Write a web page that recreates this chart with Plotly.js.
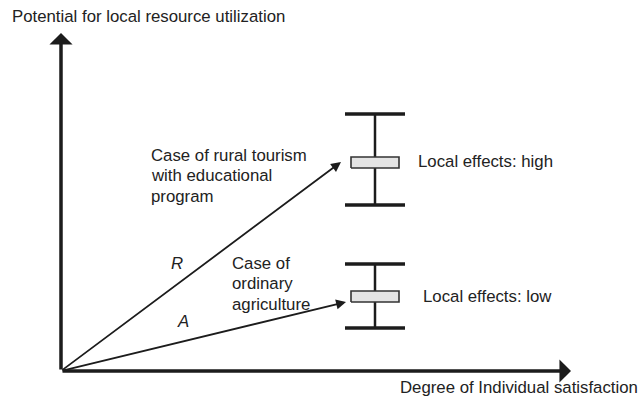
<!DOCTYPE html>
<html>
<head>
<meta charset="utf-8">
<script src="https://cdn.plot.ly/plotly-3.0.1.min.js"></script>
<style>html,body{margin:0;padding:0;background:#fff;}#chart{width:641px;height:402px;}</style>
</head>
<body>
<div id="chart"></div>
<script>
// ---- Data (conceptual units, origin = where the two axes meet) ----
const axisLength = [510, 338];                 // [satisfaction axis, potential axis]
const caseNames = ['R', 'A'];
const caseSatisfaction = [280, 285];           // arrow tips, x
const casePotential = [209, 69];               // arrow tips, y
const effectX = [314, 314];                    // position of local-effect ranges
const effectWhiskerLow = [166, 43];
const effectWhiskerHigh = [257, 107];
const effectBoxLow = [203, 69];
const effectBoxHigh = [214, 80];
const effectLabels = ['Local effects: high', 'Local effects: low'];
const caseLabels = [
  ['Case of rural tourism', 'with educational', 'program'],
  ['Case of', 'ordinary', 'agriculture']
];
const yTitle = 'Potential for local resource utilization';
const xTitle = 'Degree of Individual satisfaction';

// ---- Layout helpers ----
const W = 641, H = 402, OX = 61, OY = 371;
const FONT = 'Liberation Sans, Arial, Helvetica, sans-serif';
const FS = 16.8;
const TXT = '#222';
const INK = '#1c1c1c';
const px = x => x / W;
const py = y => 1 - y / H;

const traces = [];
const capHalf = 30, boxHalf = 24;
for (let i = 0; i < effectX.length; i++) {
  const cx = effectX[i];
  traces.push({x: [cx, cx], y: [effectWhiskerLow[i], effectWhiskerHigh[i]], mode: 'lines',
    line: {color: INK, width: 2.5}, hoverinfo: 'skip', showlegend: false});
  [effectWhiskerLow[i], effectWhiskerHigh[i]].forEach(v => {
    traces.push({x: [cx - capHalf, cx + capHalf], y: [v, v], mode: 'lines',
      line: {color: INK, width: 3.5}, hoverinfo: 'skip', showlegend: false});
  });
  traces.push({x: [cx - boxHalf, cx + boxHalf, cx + boxHalf, cx - boxHalf, cx - boxHalf],
    y: [effectBoxLow[i], effectBoxLow[i], effectBoxHigh[i], effectBoxHigh[i], effectBoxLow[i]],
    mode: 'lines', fill: 'toself', fillcolor: '#e4e4e4',
    line: {color: '#333', width: 1.6}, hoverinfo: 'skip', showlegend: false});
}

const ann = [];
ann.push({x: axisLength[0], y: 0, ax: 0, ay: 0, xref: 'x', yref: 'y', axref: 'x', ayref: 'y',
  text: '', showarrow: true, arrowhead: 1, arrowsize: 1.1, arrowwidth: 3.5, arrowcolor: INK, standoff: 0});
ann.push({x: 0, y: axisLength[1], ax: 0, ay: 0, xref: 'x', yref: 'y', axref: 'x', ayref: 'y',
  text: '', showarrow: true, arrowhead: 1, arrowsize: 1.1, arrowwidth: 3.5, arrowcolor: INK, standoff: 0});
for (let i = 0; i < caseNames.length; i++) {
  ann.push({x: caseSatisfaction[i], y: casePotential[i], ax: 0, ay: 0, xref: 'x', yref: 'y', axref: 'x', ayref: 'y',
    text: '', showarrow: true, arrowhead: 2, arrowsize: 1.1, arrowwidth: 1.8, arrowcolor: INK, standoff: 0});
}
function label(text, x, y, xanchor, opts) {
  ann.push(Object.assign({text: text, x: px(x), y: py(y), xref: 'paper', yref: 'paper',
    xanchor: xanchor, yanchor: 'middle', showarrow: false,
    font: {family: FONT, size: FS, color: TXT}}, opts || {}));
}
label(yTitle, 10, 17, 'left');
label(xTitle, 640, 387, 'right');
const caseLabelPos = [[149, 155], [230, 263]];
caseLabels.forEach((lines, i) => {
  lines.forEach((ln, j) => label(ln, caseLabelPos[i][0], caseLabelPos[i][1] + j * 20.5, 'left'));
});
label(caseNames[0], 177, 263, 'center', {font: {family: FONT, size: FS, color: TXT, style: 'italic'}});
label(caseNames[1], 183, 321, 'center', {font: {family: FONT, size: FS, color: TXT, style: 'italic'}});
label(effectLabels[0], 416, 161, 'left');
label(effectLabels[1], 421, 296, 'left');

const layout = {
  width: W, height: H,
  margin: {l: 0, r: 0, t: 0, b: 0, pad: 0},
  paper_bgcolor: '#fff', plot_bgcolor: '#fff',
  xaxis: {range: [-OX, W - OX], visible: false, fixedrange: true},
  yaxis: {range: [OY - H, OY], visible: false, fixedrange: true},
  annotations: ann,
  showlegend: false
};
Plotly.newPlot('chart', traces, layout, {staticPlot: true, displayModeBar: false});
</script>
</body>
</html>
